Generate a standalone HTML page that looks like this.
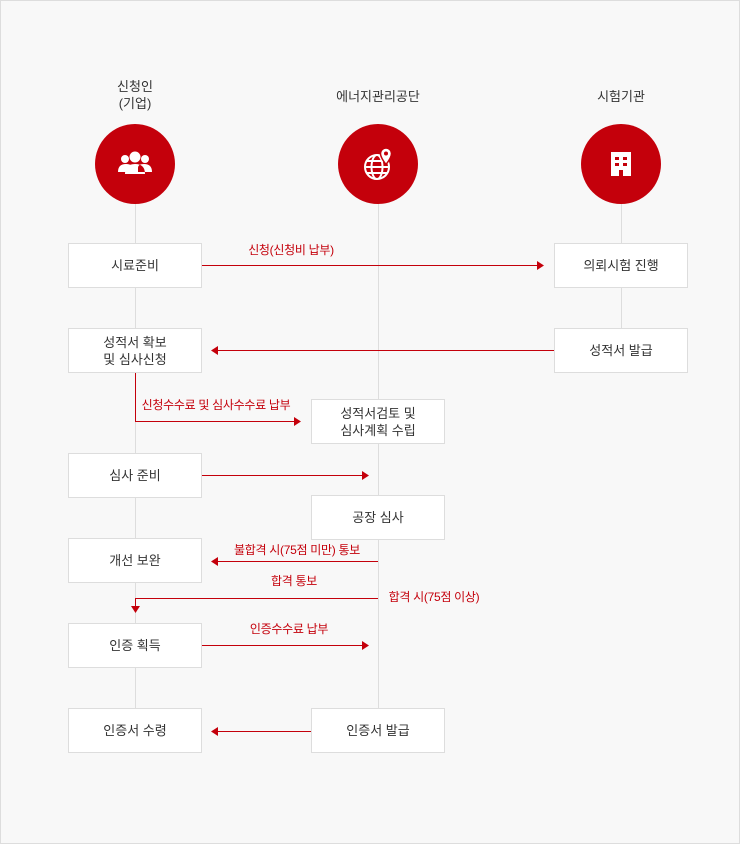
<!DOCTYPE html>
<html><head><meta charset="utf-8"><style>
body{margin:0;width:740px;height:844px;overflow:hidden;background:#fff}
.wrap{position:absolute;left:0;top:0;width:738px;height:842px;background:#f8f8f8;border:1px solid #ddd}
.t{position:absolute;font-family:"Liberation Sans","Noto Sans CJK KR",sans-serif;font-size:13px;color:#333;text-align:center;line-height:17px}
.box{position:absolute;background:#fff;border:1px solid #ddd;box-sizing:border-box;display:flex;align-items:center;justify-content:center;text-align:center;font-family:"Liberation Sans","Noto Sans CJK KR",sans-serif;font-size:13px;color:#333;line-height:17px}
.r{position:absolute;font-family:"Liberation Sans","Noto Sans CJK KR",sans-serif;font-size:12px;color:#c4000b;white-space:nowrap;transform:translateX(-50%);line-height:14px;letter-spacing:-0.3px}
</style></head><body><div class="wrap"></div>
<svg width="740" height="844" style="position:absolute;left:0;top:0">
<g stroke="#ddd" stroke-width="1">
<line x1="135.5" y1="200" x2="135.5" y2="752"/>
<line x1="378.5" y1="200" x2="378.5" y2="752"/>
<line x1="621.5" y1="200" x2="621.5" y2="372"/>
</g>
<circle cx="135" cy="164" r="40" fill="#c4000b"/>
<circle cx="378" cy="164" r="40" fill="#c4000b"/>
<circle cx="621" cy="164" r="40" fill="#c4000b"/>
<g fill="#fff">
<circle cx="125" cy="159" r="4"/><circle cx="145" cy="159" r="4"/><circle cx="135" cy="157" r="5.5"/>
<path d="M118 172 q0-8 8-8 q6 0 6 4 v4z M152 172 q0-8-8-8 q-6 0-6 4 v4z M125 174 q0-10 10-10 q10 0 10 10z"/>
<rect x="611" y="152" width="20" height="24"/>
</g>
<g fill="#c4000b"><rect x="615" y="157" width="4" height="3"/><rect x="623" y="157" width="4" height="3"/><rect x="615" y="163" width="4" height="3"/><rect x="623" y="163" width="4" height="3"/><rect x="619" y="170" width="4" height="6"/></g>
<g stroke="#fff" stroke-width="2" fill="none"><circle cx="377" cy="167" r="12"/><ellipse cx="377" cy="167" rx="5.5" ry="12"/><line x1="365" y1="167" x2="389" y2="167"/><line x1="367" y1="161" x2="387" y2="161"/><line x1="367" y1="173" x2="387" y2="173"/></g>
<path d="M386 148 a5.5 5.5 0 0 1 5.5 5.5 q0 4-5.5 11 q-5.5-7-5.5-11 a5.5 5.5 0 0 1 5.5-5.5z" fill="#fff" stroke="#c4000b" stroke-width="1.5"/><circle cx="386" cy="153.5" r="2" fill="#c4000b"/>
<g stroke="#c4000b" stroke-width="1" fill="none">
<line x1="201" y1="265.5" x2="538" y2="265.5"/>
<line x1="554" y1="350.5" x2="217" y2="350.5"/>
<polyline points="135.5,372 135.5,421.5 295,421.5"/>
<line x1="201" y1="475.5" x2="363" y2="475.5"/>
<line x1="378" y1="561.5" x2="217" y2="561.5"/>
<polyline points="378,598.5 135.5,598.5 135.5,607"/>
<line x1="201" y1="645.5" x2="363" y2="645.5"/>
<line x1="311" y1="731.5" x2="217" y2="731.5"/>
</g>
<g fill="#c4000b">
<path d="M544 265.5 l-7-4.5v9z"/>
<path d="M211 350.5 l7-4.5v9z"/>
<path d="M301 421.5 l-7-4.5v9z"/>
<path d="M369 475.5 l-7-4.5v9z"/>
<path d="M211 561.5 l7-4.5v9z"/>
<path d="M135.5 613 l-4.5-7h9z"/>
<path d="M369 645.5 l-7-4.5v9z"/>
<path d="M211 731.5 l7-4.5v9z"/>
</g>
</svg>
<div class="t" style="left:85px;top:78px;width:100px">신청인<br>(기업)</div>
<div class="t" style="left:318px;top:88px;width:120px">에너지관리공단</div>
<div class="t" style="left:571px;top:88px;width:100px">시험기관</div>
<div class="box" style="left:68px;top:243px;width:134px;height:45px">시료준비</div>
<div class="box" style="left:68px;top:328px;width:134px;height:45px">성적서 확보<br>및 심사신청</div>
<div class="box" style="left:68px;top:453px;width:134px;height:45px">심사 준비</div>
<div class="box" style="left:68px;top:538px;width:134px;height:45px">개선 보완</div>
<div class="box" style="left:68px;top:623px;width:134px;height:45px">인증 획득</div>
<div class="box" style="left:68px;top:708px;width:134px;height:45px">인증서 수령</div>
<div class="box" style="left:311px;top:399px;width:134px;height:45px">성적서검토 및<br>심사계획 수립</div>
<div class="box" style="left:311px;top:495px;width:134px;height:45px">공장 심사</div>
<div class="box" style="left:311px;top:708px;width:134px;height:45px">인증서 발급</div>
<div class="box" style="left:554px;top:243px;width:134px;height:45px">의뢰시험 진행</div>
<div class="box" style="left:554px;top:328px;width:134px;height:45px">성적서 발급</div>
<div class="r" style="left:291px;top:243px">신청(신청비 납부)</div>
<div class="r" style="left:216px;top:398px">신청수수료 및 심사수수료 납부</div>
<div class="r" style="left:297px;top:543px">불합격 시(75점 미만) 통보</div>
<div class="r" style="left:294px;top:574px">합격 통보</div>
<div class="r" style="left:434px;top:590px">합격 시(75점 이상)</div>
<div class="r" style="left:289px;top:622px">인증수수료 납부</div>
</body></html>
